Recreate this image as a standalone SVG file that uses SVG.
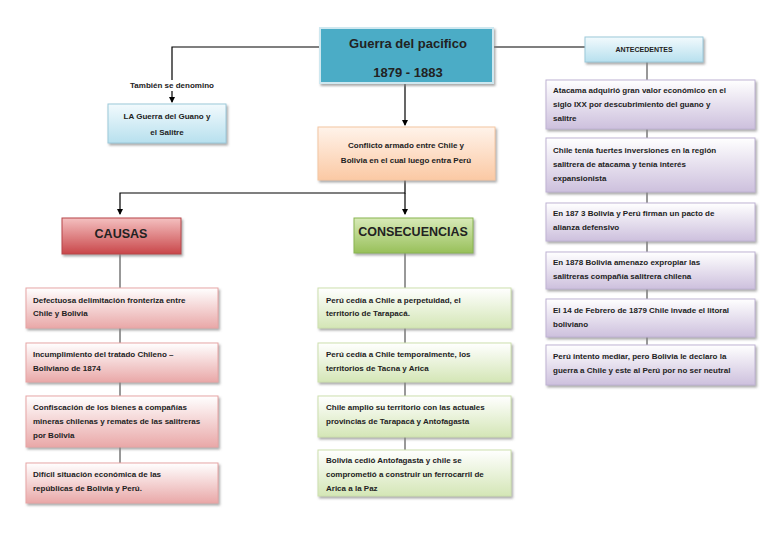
<svg xmlns="http://www.w3.org/2000/svg" width="768" height="543" viewBox="0 0 768 543">
<defs>
<linearGradient id="gBlue" x1="0" y1="0" x2="0" y2="1"><stop offset="0" stop-color="#f2fafd"/><stop offset="1" stop-color="#b7e0ee"/></linearGradient>
<linearGradient id="gPeach" x1="0" y1="0" x2="0" y2="1"><stop offset="0" stop-color="#fff3ea"/><stop offset="1" stop-color="#fbc9a4"/></linearGradient>
<linearGradient id="gRed" x1="0" y1="0" x2="0" y2="1"><stop offset="0" stop-color="#f4c0c0"/><stop offset="1" stop-color="#c9474a"/></linearGradient>
<linearGradient id="gGreen" x1="0" y1="0" x2="0" y2="1"><stop offset="0" stop-color="#d8eab8"/><stop offset="1" stop-color="#98c05a"/></linearGradient>
<linearGradient id="gPink" x1="0" y1="0" x2="0" y2="1"><stop offset="0" stop-color="#ffffff"/><stop offset="1" stop-color="#e9a8a8"/></linearGradient>
<linearGradient id="gLgreen" x1="0" y1="0" x2="0" y2="1"><stop offset="0" stop-color="#ffffff"/><stop offset="1" stop-color="#d4e6b6"/></linearGradient>
<linearGradient id="gPurple" x1="0" y1="0" x2="0" y2="1"><stop offset="0" stop-color="#ffffff"/><stop offset="1" stop-color="#cdc0dd"/></linearGradient>
<marker id="ar" markerWidth="6" markerHeight="6" refX="5" refY="3" orient="auto" markerUnits="userSpaceOnUse"><path d="M0,0 L6,3 L0,6 z" fill="#000"/></marker>
<filter id="sh" x="-5%" y="-10%" width="115%" height="130%"><feDropShadow dx="1.5" dy="2" stdDeviation="0.8" flood-color="#888" flood-opacity="0.7"/></filter>
</defs>
<style>
text{font-family:"Liberation Sans","DejaVu Sans",sans-serif;font-weight:bold;fill:#222;font-size:8px}
.c{text-anchor:middle}
.t{font-size:13px}
.h{font-size:12.5px}
.s{font-size:7px}
.box{filter:url(#sh)}
.bl{stroke:#9cc9da;stroke-width:1}
.pk{fill:url(#gPink);stroke:#e7a5a5}
.lg{fill:url(#gLgreen);stroke:#cde0ae}
.pu{fill:url(#gPurple);stroke:#bfb3d3}
.ln{stroke:#000;stroke-width:1.2;fill:none}
.lg2{stroke:#333;stroke-width:1;fill:none}
</style>
<rect width="768" height="543" fill="#fff"/>
<g id="connectors">
<path class="ln" d="M320,47 H172 V102" marker-end="url(#ar)"/>
<path class="ln" d="M493,47 H585"/>
<path class="ln" d="M405,83 V125" marker-end="url(#ar)"/>
<path class="ln" d="M405,180 V193 H120 V214" marker-end="url(#ar)"/>
<path class="ln" d="M405,193 V214" marker-end="url(#ar)"/>
<path class="lg2" d="M120,254 V288 M120,328 V343 M120,382 V396 M120,447 V463"/>
<path class="lg2" d="M405,253 V288 M405,328 V343 M405,382 V396 M405,437 V450"/>
<path class="lg2" d="M647,62 V80 M647,129 V138 M647,192 V203 M647,241 V252 M647,289 V299 M647,337 V345"/>
<rect x="128" y="80" width="90" height="11" fill="#fff"/>
<text class="c" x="172" y="88">También se denomino</text>
</g>
<g id="title"><rect class="box" x="320" y="28" width="173" height="55" fill="#4bacc6" stroke="#cfe8f0" stroke-width="2"/>
<text class="c t" x="408" y="48">Guerra del pacifico</text>
<text class="c t" x="408" y="77">1879 - 1883</text></g>
<g id="guano"><rect class="box bl" x="108" y="104" width="118" height="39" fill="url(#gBlue)"/>
<text class="c" x="167" y="119">LA Guerra del Guano y</text><text class="c" x="167" y="135">el Salitre</text></g>
<g id="antecedentes"><rect class="box bl" x="585" y="37" width="118" height="25" fill="url(#gBlue)"/>
<text class="c s" x="644" y="52">ANTECEDENTES</text></g>
<g id="conflicto"><rect class="box" x="318" y="127" width="177" height="53" fill="url(#gPeach)" stroke="#f4c6a2"/>
<text class="c" x="406" y="148">Conflicto armado entre Chile y</text><text class="c" x="406" y="163">Bolivia  en el cual luego entra Perú</text></g>
<g id="causas"><rect class="box" x="62" y="218" width="119" height="36" fill="url(#gRed)" stroke="#b84548"/>
<text class="c h" x="121" y="238">CAUSAS</text></g>
<g id="consecuencias"><rect class="box" x="354" y="218" width="119" height="35" fill="url(#gGreen)" stroke="#8ab550"/>
<text class="c h" x="413" y="236">CONSECUENCIAS</text></g>
<g id="c1"><rect class="box pk" x="26" y="288" width="192" height="40"/><text x="33" y="303">Defectuosa delimitación fronteriza entre</text><text x="33" y="316">Chile y Bolivia</text></g>
<g id="c2"><rect class="box pk" x="26" y="343" width="192" height="39"/><text x="33" y="357">Incumplimiento del tratado Chileno –</text><text x="33" y="371">Boliviano de 1874</text></g>
<g id="c3"><rect class="box pk" x="26" y="396" width="192" height="51"/><text x="33" y="410">Confiscación de los bienes a compañías</text><text x="33" y="424">mineras chilenas y remates de las salitreras</text><text x="33" y="438">por Bolivia</text></g>
<g id="c4"><rect class="box pk" x="26" y="463" width="192" height="40"/><text x="33" y="477">Difícil situación económica de las</text><text x="33" y="491">repúblicas de Bolivia y Perú.</text></g>
<g id="k1"><rect class="box lg" x="318" y="288" width="193" height="40"/><text x="326" y="303">Perú cedía a Chile a perpetuidad, el</text><text x="326" y="316">territorio de Tarapacá.</text></g>
<g id="k2"><rect class="box lg" x="318" y="343" width="193" height="39"/><text x="326" y="357">Perú cedía a Chile temporalmente, los</text><text x="326" y="371">territorios de Tacna y Arica</text></g>
<g id="k3"><rect class="box lg" x="318" y="396" width="193" height="41"/><text x="326" y="410">Chile amplio su territorio con las actuales</text><text x="326" y="424">provincias de Tarapacá y Antofagasta</text></g>
<g id="k4"><rect class="box lg" x="318" y="450" width="193" height="46"/><text x="326" y="463">Bolivia cedió Antofagasta y chile se</text><text x="326" y="477">comprometió a construir un ferrocarril de</text><text x="326" y="491">Arica a la Paz</text></g>
<g id="a1"><rect class="box pu" x="546" y="80" width="209" height="49"/><text x="553" y="93">Atacama adquirió gran valor económico en el</text><text x="553" y="107">siglo IXX por descubrimiento del guano y</text><text x="553" y="121">salitre</text></g>
<g id="a2"><rect class="box pu" x="546" y="138" width="209" height="54"/><text x="553" y="153">Chile tenía fuertes inversiones en la región</text><text x="553" y="167">salitrera de atacama y tenía interés</text><text x="553" y="181">expansionista</text></g>
<g id="a3"><rect class="box pu" x="546" y="203" width="209" height="38"/><text x="553" y="216">En 187 3 Bolivia y Perú firman un pacto de</text><text x="553" y="230">alianza defensivo</text></g>
<g id="a4"><rect class="box pu" x="546" y="252" width="209" height="37"/><text x="553" y="265">En 1878 Bolivia amenazo expropiar las</text><text x="553" y="279">salitreras compañía salitrera chilena</text></g>
<g id="a5"><rect class="box pu" x="546" y="299" width="209" height="38"/><text x="553" y="313">El 14 de Febrero de 1879 Chile invade el litoral</text><text x="553" y="327">boliviano</text></g>
<g id="a6"><rect class="box pu" x="546" y="345" width="209" height="40"/><text x="553" y="359">Perú intento mediar, pero Bolivia le declaro la</text><text x="553" y="373">guerra a Chile y este al Perú por no ser neutral</text></g>
</svg>
